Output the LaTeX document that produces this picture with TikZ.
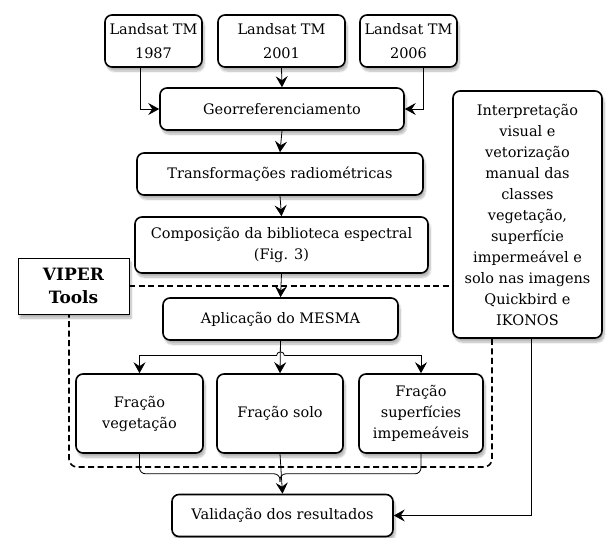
\documentclass[tikz,border=0pt]{standalone}
\usepackage{fontspec}
\setmainfont{DejaVu Serif}
\usepackage{tikz}
\usetikzlibrary{arrows,arrows.meta}
\usetikzlibrary{shadows, shadows.blur}
\usetikzlibrary{calc, positioning}
\tikzset{
    boxR/.style={
        draw, line width=1.6pt, rounded corners=7pt, fill=white,
        align=center, inner sep=2pt,
        font=\fontsize{14.5}{21}\selectfont,
        blur shadow={shadow xshift=2pt, shadow yshift=-4pt, shadow opacity=30, shadow blur steps=8}
    },
    boxV/.style={
        draw, line width=0.8pt, fill=white,
        align=center, inner sep=2pt,
        font=\fontsize{17}{23}\selectfont\bfseries,
        blur shadow={shadow xshift=2pt, shadow yshift=-4pt, shadow opacity=30, shadow blur steps=8}
    },
    lineA/.style={line width=0.8pt},
    arrA/.style={line width=0.8pt, -{Stealth[length=11pt, width=12pt, inset=4pt]}},
    dashR/.style={line width=1.6pt, dash pattern=on 6pt off 3.5pt}
}
\begin{document}
\begin{tikzpicture}[x=1pt, y=-1pt]
    \useasboundingbox (0,0) rectangle (606,538);
    % imagens
    \node[boxR, minimum width=97pt, minimum height=52pt] (l1) at (153.5,41) {Landsat TM\\[3pt]1987};
    \node[boxR, minimum width=127pt, minimum height=52pt] (l2) at (281.5,41) {Landsat TM\\[3pt]2001};
    \node[boxR, minimum width=97pt, minimum height=52pt] (l3) at (408.5,41) {Landsat TM\\[3pt]2006};
    % processamento
    \node[boxR, minimum width=244pt, minimum height=42pt] (geo) at (282,109) {Georreferenciamento};
    \node[boxR, minimum width=286pt, minimum height=42pt] (trans) at (280,174) {Transformações radiométricas};
    \node[boxR, minimum width=293pt, minimum height=56pt] (comp) at (281.5,245) {Composição da biblioteca espectral\\(Fig. 3)};
    \node[boxV, minimum width=111pt, minimum height=56pt] (viper) at (73.5,286) {VIPER\\Tools};
    \node[boxR, minimum width=235pt, minimum height=42pt] (mesma) at (280.5,319) {Aplicação do MESMA};
    \node[boxR, minimum width=127pt, minimum height=79pt] (f1) at (139.5,413.5) {Fração\\vegetação};
    \node[boxR, minimum width=126pt, minimum height=79pt] (f2) at (280,413.5) {Fração solo};
    \node[boxR, minimum width=124pt, minimum height=79pt] (f3) at (421,413.5) {Fração\\superfícies\\impemeáveis};
    \node[boxR, minimum width=221pt, minimum height=42pt] (val) at (282.5,515.5) {Validação dos resultados};
    \node[boxR, minimum width=149pt, minimum height=247pt] (interp) at (527.5,214.5)
        {Interpretação\\visual e\\vetorização\\manual das\\classes\\vegetação,\\superfície\\impermeável e\\solo nas imagens\\Quickbird e\\IKONOS};
    % regiao VIPER
    \draw[dashR] (viper.east) -- (viper.east -| interp.west);
    \draw[dashR, rounded corners=8pt] ([xshift=-35.5pt]interp.south) -- (492,467) -- (69,467) -- (69,314);
    % ligacoes
    \draw[arrA] ([xshift=-13.5pt]l1.south) |- (geo.west);
    \draw[arrA] (l2.south) -- (geo.north);
    \draw[arrA] ([xshift=14.5pt]l3.south) |- (geo.east);
    \draw[arrA] (geo.south) -- (trans.north);
    \draw[arrA] (trans.south) -- (comp.north);
    \draw[arrA] (comp.south) -- (mesma.north);
    \coordinate (br) at ([yshift=-15pt]mesma.south);
    \draw[arrA] (mesma.south) -- (f2.north);
    \draw[arrA] ([xshift=-4pt]br) -- (br -| f1.north) -- (f1.north);
    \draw[arrA] ([xshift=4pt]br) -- (br -| f3.north) -- (f3.north);
    \draw[lineA] ([xshift=-4pt]br) arc (180:0:4pt);
    \coordinate (jn) at ([yshift=-20pt]f2.south);
    \draw[lineA, rounded corners=6pt] (f1.south) |- (jn) -- ([yshift=-8pt]jn);
    \draw[lineA, rounded corners=6pt] (f3.south) |- (jn) -- ([yshift=-8pt]jn);
    \draw[arrA] (f2.south) -- (val.north);
    \draw[arrA] ([xshift=3.5pt]interp.south) |- (val.east);
\end{tikzpicture}
\end{document}
